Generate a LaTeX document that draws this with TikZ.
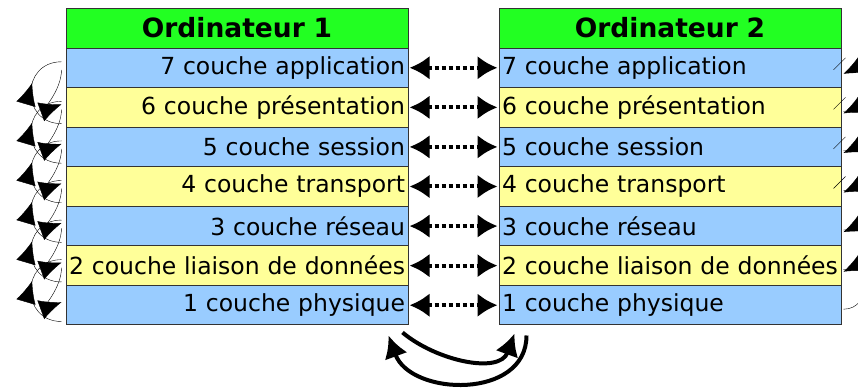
\documentclass[tikz,border=0pt]{standalone}
\usepackage{fontspec}
\setmainfont{DejaVu Sans}
\usepackage{tikz}
\usetikzlibrary{arrows.meta,calc,decorations.markings}
\definecolor{vert}{RGB}{34,255,34}
\definecolor{bleu}{RGB}{153,204,255}
\definecolor{jaune}{RGB}{255,255,153}
\tikzset{
  couche/.style={draw=black!80,line width=1pt,inner sep=3pt,text width=336pt,minimum height=39.57pt,font=\fontsize{23.5}{28}\selectfont},
  titre/.style={couche,fill=vert,align=center,minimum height=40pt,font=\fontsize{26.5}{30}\selectfont\bfseries},
  pair/.style={line width=4pt,dash pattern=on 4pt off 3pt,{Latex[length=20pt,width=24pt]}-{Latex[length=20pt,width=24pt]}},
  flux/.style={line width=4pt,-{Latex[length=22pt,width=24pt]}},
  fil/.style={thin,-{Latex[length=22pt,width=20pt]}}
}
\begin{document}
\begin{tikzpicture}[x=1pt,y=-1pt]
\useasboundingbox (0,0) rectangle (858,391);

% Ordinateur 1 / Ordinateur 2
\node[titre] (T1) at (237,28) {Ordinateur 1};
\node[titre] (T2) at (670,28) {Ordinateur 2};

\foreach \n/\t/\c in {7/application/bleu,6/présentation/jaune,5/session/bleu,4/transport/jaune,3/réseau/bleu,2/liaison de données/jaune,1/physique/bleu}{
	\node[couche,fill=\c,align=right] (L\n) at (237,{48+(7-\n)*39.57+19.785}) {\n{} couche \t};
	\node[couche,fill=\c,align=left] (R\n) at (670,{48+(7-\n)*39.57+19.785}) {\n{} couche \t};
	% liaison entre couches de meme niveau
	\draw[pair] ([xshift=1pt]L\n.east) -- ([xshift=-1pt]R\n.west);
}

% descente a gauche
\foreach \n/\m in {7/6,6/5,5/4,4/3,3/2,2/1}{
	\draw[fil] ([xshift=-4pt,yshift=-2pt]L\n.west) to[out=-90,in=-160,looseness=1.5] ([xshift=-4pt,yshift=3pt]L\m.west);
	\draw[thin,postaction={decorate,decoration={markings,
			mark=at position .6 with {\arrow{Latex[length=22pt,width=20pt]}}}}]
		([xshift=-4pt,yshift=4pt]L\m.south west) to[out=180,in=180,looseness=1.7] ([xshift=-4pt,yshift=6pt]L\n.west);
}

% remontee a droite
\foreach \n/\m in {1/2,2/3,3/4,4/5,5/6,6/7}{
	\draw[fil] ([xshift=2pt,yshift=-4pt]R\n.east) to[out=0,in=25,looseness=2] ([xshift=2pt,yshift=-6pt]R\m.east);
}
\foreach \n in {7,6,5,4}{
	\draw[thin] ([xshift=-8pt,yshift=-2pt]R\n.east) -- ([xshift=4pt,yshift=10pt]R\n.east);
}

% medium physique
\draw[flux] ([xshift=-6pt,yshift=-7pt]L1.south east) to[out=-40,in=-110] ([xshift=16pt,yshift=-8pt]R1.south west);
\draw[flux] ([xshift=28pt,yshift=-10pt]R1.south west) to[out=-90,in=-70,looseness=1.2] ([xshift=-20pt,yshift=-10pt]L1.south east);

\end{tikzpicture}
\end{document}
